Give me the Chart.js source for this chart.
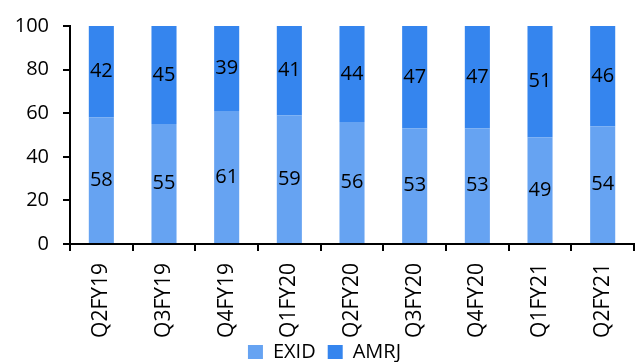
<!DOCTYPE html>
<html>
<head>
<meta charset="utf-8">
<script src="https://cdn.jsdelivr.net/npm/chart.js@4"></script>
<style>
  html, body { margin: 0; padding: 0; background: #fff; overflow: hidden; }
  #wrap { width: 640px; height: 362px; }
</style>
</head>
<body>
<div id="wrap"><canvas id="chart" width="640" height="362"></canvas></div>
<script>
const categories = ["Q2FY19", "Q3FY19", "Q4FY19", "Q1FY20", "Q2FY20", "Q3FY20", "Q4FY20", "Q1FY21", "Q2FY21"];
const exidValues = [58, 55, 61, 59, 56, 53, 53, 49, 54];
const amrjValues = [42, 45, 39, 41, 44, 47, 47, 51, 46];
const yTicks = [0, 20, 40, 60, 80, 100];

const FONT = "'Open Sans', 'DejaVu Sans', sans-serif";

// simple inline data labels, centred in each bar segment
const segmentLabels = {
    id: "segmentLabels",
    afterDatasetsDraw(chart) {
        const ctx = chart.ctx;
        ctx.save();
        ctx.font = "20px " + FONT;
        ctx.fillStyle = "#000";
        ctx.textAlign = "center";
        ctx.textBaseline = "middle";
        chart.data.datasets.forEach((ds, i) => {
            chart.getDatasetMeta(i).data.forEach((bar, j) => {
                ctx.fillText(ds.data[j], bar.x, (bar.y + bar.base) / 2);
            });
        });
        ctx.restore();
    }
};

// pull the legend up a bit so it sits under the rotated labels
const legendNudge = {
    id: "legendNudge",
    afterLayout(chart) {
        const lg = chart.legend;
        if (!lg) return;
        lg.top -= 10;
        lg.bottom -= 10;
    }
};

new Chart(document.getElementById("chart"), {
    type: "bar",
    data: {
        labels: categories,
        datasets: [
            { label: "EXID", data: exidValues, backgroundColor: "#66a3f2" },
            { label: "AMRJ", data: amrjValues, backgroundColor: "#3585ee" }
        ]
    },
    options: {
        responsive: false,
        animation: false,
        layout: { padding: { left: 11, right: 2, top: 5, bottom: -20 } },
        datasets: { bar: { categoryPercentage: 1, barPercentage: 0.4 } },
        plugins: {
            legend: {
                position: "bottom",
                labels: {
                    font: { family: FONT, size: 20 },
                    color: "#000",
                    boxWidth: 15,
                    boxHeight: 14,
                    padding: 12
                }
            },
            tooltip: { enabled: false }
        },
        scales: {
            x: {
                stacked: true,
                border: { color: "#000", width: 2 },
                grid: { display: true, drawOnChartArea: false, color: "#000", tickLength: 7, lineWidth: 2 },
                ticks: {
                    font: { family: FONT, size: 21 },
                    color: "#000",
                    minRotation: 90,
                    maxRotation: 90,
                    padding: 12
                },
                afterFit: (scale) => { scale.height = 96; }
            },
            y: {
                stacked: true,
                min: 0,
                max: 100,
                afterBuildTicks: (scale) => { scale.ticks = yTicks.map(v => ({ value: v })); },
                afterFit: (scale) => { scale.width = 59; },
                border: { color: "#000", width: 2 },
                grid: { display: true, drawOnChartArea: false, color: "#000", tickLength: 7, lineWidth: 2 },
                ticks: {
                    font: { family: FONT, size: 20 },
                    color: "#000",
                    padding: 14
                }
            }
        }
    },
    plugins: [segmentLabels, legendNudge]
});
</script>
</body>
</html>
